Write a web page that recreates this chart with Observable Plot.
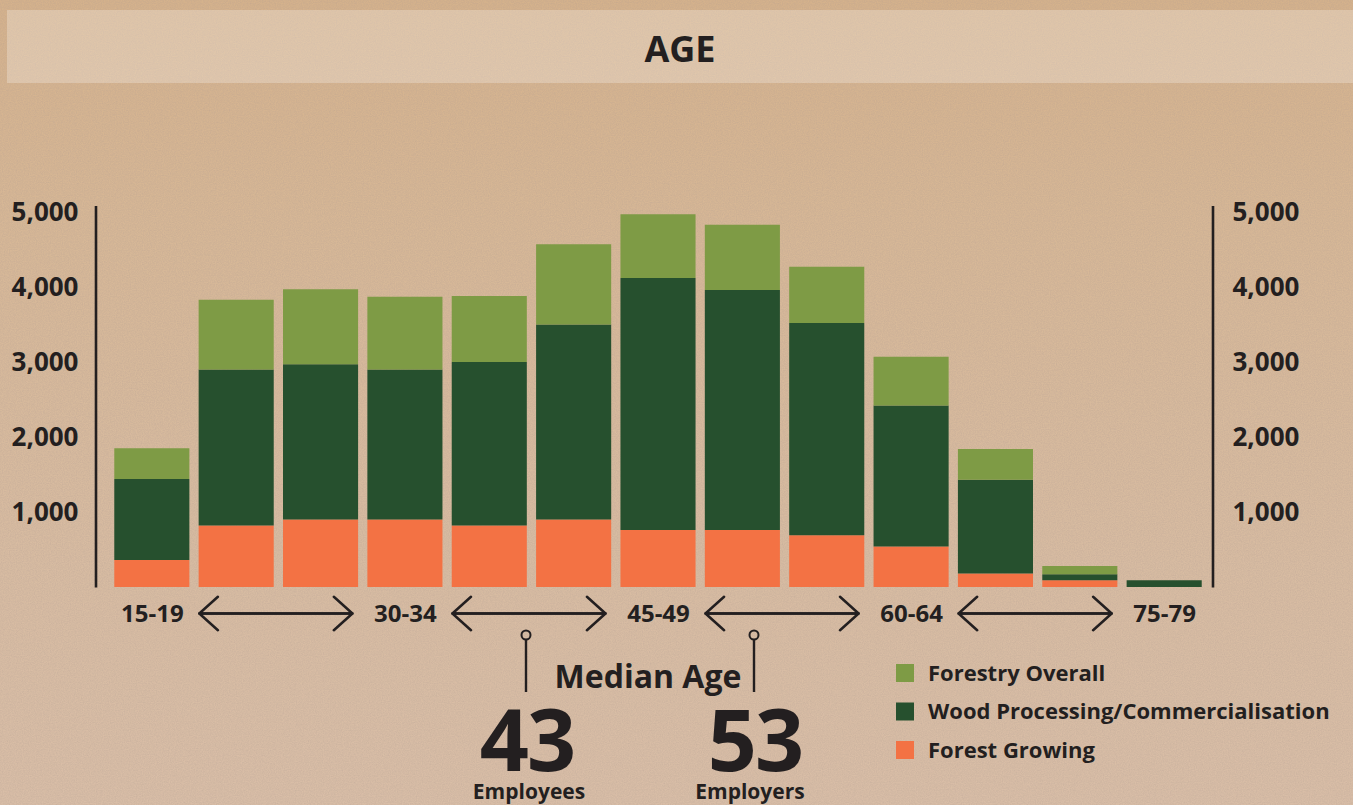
<!DOCTYPE html>
<html>
<head>
<meta charset="utf-8">
<script src="https://cdn.jsdelivr.net/npm/d3@7"></script>
<script src="https://cdn.jsdelivr.net/npm/@observablehq/plot@0.6"></script>
<style>
  html, body { margin: 0; padding: 0; }
  body {
    width: 1353px; height: 805px; overflow: hidden;
    background: linear-gradient(180deg, #d5b28c 0%, #d7b897 30%, #d8bca2 70%, #d9bea7 100%);
    font-family: "Open Sans", sans-serif; color: #231f20;
  }
  #wrap { position: relative; width: 1353px; height: 805px; }
  #bg, #anno { position: absolute; left: 0; top: 0; }
  #chart { position: absolute; left: 0; top: 100px; }
  #chart svg text { font-weight: 700; fill: #231f20; }
</style>
</head>
<body>
<div id="wrap">
  <svg id="bg" width="1353" height="805">
    <filter id="noise">
      <feTurbulence type="fractalNoise" baseFrequency="0.85" numOctaves="3" seed="7"/>
      <feColorMatrix type="matrix" values="0 0 0 0 0.42  0 0 0 0 0.32  0 0 0 0 0.28  0 0 0 0.6 -0.14"/>
    </filter>
    <rect width="1353" height="805" filter="url(#noise)" opacity="0.7"/>
  </svg>
  <div id="chart"></div>
  <svg id="anno" width="1353" height="805"></svg>
</div>
<script>
// ---- data ----
const ages = ["15-19","20-24","25-29","30-34","35-39","40-44","45-49","50-54","55-59","60-64","65-69","70-74","75-79"];
const forestGrowing   = [360, 820, 900, 900, 820, 900, 760, 760, 690, 540, 180, 90, 0];
const woodProcessing  = [1080, 2080, 2070, 2000, 2180, 2600, 3360, 3200, 2830, 1880, 1250, 80, 90];
const forestryOverall = [410, 930, 1000, 970, 880, 1070, 850, 870, 750, 650, 410, 110, 0];
const seriesNames = ["Forest Growing", "Wood Processing/Commercialisation", "Forestry Overall"];
const seriesColors = ["#f37244", "#26502e", "#7e9b45"];
const yTicks = [1000, 2000, 3000, 4000, 5000];
const xLabelTicks = ["15-19", "30-34", "45-49", "60-64", "75-79"];
const titleText = "AGE";
const medianTitle = "Median Age";
const medianValues = [43, 53];
const medianLabels = ["Employees", "Employers"];
const legendOrder = ["Forestry Overall", "Wood Processing/Commercialisation", "Forest Growing"];

// ---- build tables ----
const seriesValues = [forestGrowing, woodProcessing, forestryOverall];
const rows = [];
ages.forEach((age, i) => {
  seriesNames.forEach((s, j) => rows.push({age, series: s, value: seriesValues[j][i]}));
});
const arrowPairs = [];
for (let i = 0; i < xLabelTicks.length - 1; i++) {
  arrowPairs.push({a: xLabelTicks[i], b: xLabelTicks[i + 1]});
}

const ink = "#231f20";
const chart = Plot.plot({
  width: 1353,
  height: 540,
  marginTop: 106,
  marginBottom: 53,
  marginLeft: 96,
  marginRight: 140,
  style: {background: "transparent", fontFamily: "Open Sans, sans-serif", color: ink, overflow: "visible"},
  x: {domain: ages, padding: 0.11, insetLeft: 9, insetRight: 2, round: false, label: null},
  y: {domain: [0, 5080], label: null},
  color: {domain: seriesNames, range: seriesColors},
  marks: [
    Plot.barY(rows, {x: "age", y: "value", fill: "series", order: seriesNames}),
    Plot.axisY({anchor: "left", ticks: yTicks, tickSize: 0, tickPadding: 18, tickFormat: d3.format(","), fontSize: 26, fontWeight: 700, label: null}),
    Plot.axisY({anchor: "right", ticks: yTicks, tickSize: 0, tickPadding: 19, tickFormat: d3.format(","), fontSize: 26, fontWeight: 700, label: null}),
    Plot.axisX({ticks: xLabelTicks, tickSize: 0, tickPadding: 17, fontSize: 24, fontWeight: 700, label: null}),
    Plot.arrow(arrowPairs, {x1: "a", x2: "b", y1: () => 0, y2: () => 0, dy: 26, insetStart: 47, insetEnd: 53, headLength: 15, headAngle: 84, stroke: ink, strokeWidth: 2.5}),
    Plot.arrow(arrowPairs, {x1: "b", x2: "a", y1: () => 0, y2: () => 0, dy: 26, insetStart: 53, insetEnd: 47, headLength: 15, headAngle: 84, stroke: ink, strokeWidth: 2.5})
  ]
});
document.getElementById("chart").append(chart);

// axis lines at the frame edges
const ys = chart.scale("y");
const yBottom = ys.apply(0), yTop = 106;
const svgC = d3.select(chart);
[96, 1353 - 140].forEach(x => {
  svgC.append("line").attr("x1", x).attr("x2", x).attr("y1", yTop).attr("y2", yBottom + 0.5)
    .attr("stroke", ink).attr("stroke-width", 2.6);
});

// ---- annotations: title band, median age, legend ----
const anno = d3.select("#anno");
anno.append("rect").attr("x", 7).attr("y", 10).attr("width", 1346).attr("height", 73)
  .attr("fill", "#ffffff").attr("fill-opacity", 0.25);
anno.append("text").attr("x", 680).attr("y", 62).attr("text-anchor", "middle")
  .attr("font-size", 36).attr("font-weight", 700).attr("fill", ink).text(titleText);

// median age
anno.append("text").attr("x", 648).attr("y", 688).attr("text-anchor", "middle")
  .attr("font-size", 32).attr("font-weight", 700).attr("fill", ink).text(medianTitle);
const medX = [527, 755];
const pinX = [526, 754];
medianValues.forEach((v, i) => {
  anno.append("circle").attr("cx", pinX[i]).attr("cy", 635).attr("r", 4.5)
    .attr("fill", "none").attr("stroke", ink).attr("stroke-width", 2);
  anno.append("line").attr("x1", pinX[i]).attr("x2", pinX[i]).attr("y1", 639.5).attr("y2", 692)
    .attr("stroke", ink).attr("stroke-width", 2.4);
  anno.append("text").attr("x", medX[i]).attr("y", 771).attr("text-anchor", "middle")
    .attr("font-size", 86).attr("font-weight", 700).attr("fill", ink).attr("letter-spacing", -2).text(v);
  anno.append("text").attr("x", i === 0 ? 529 : 750).attr("y", 799).attr("text-anchor", "middle")
    .attr("font-size", 21).attr("font-weight", 700).attr("fill", ink).text(medianLabels[i]);
});

// legend
legendOrder.forEach((name, i) => {
  const cy = 673 + i * 38.5;
  anno.append("rect").attr("x", 896).attr("y", cy - 9).attr("width", 18).attr("height", 18)
    .attr("fill", seriesColors[seriesNames.indexOf(name)]);
  anno.append("text").attr("x", 928).attr("y", cy + 7.5)
    .attr("font-size", 22).attr("font-weight", 700).attr("fill", ink).text(name);
});
</script>
</body>
</html>
